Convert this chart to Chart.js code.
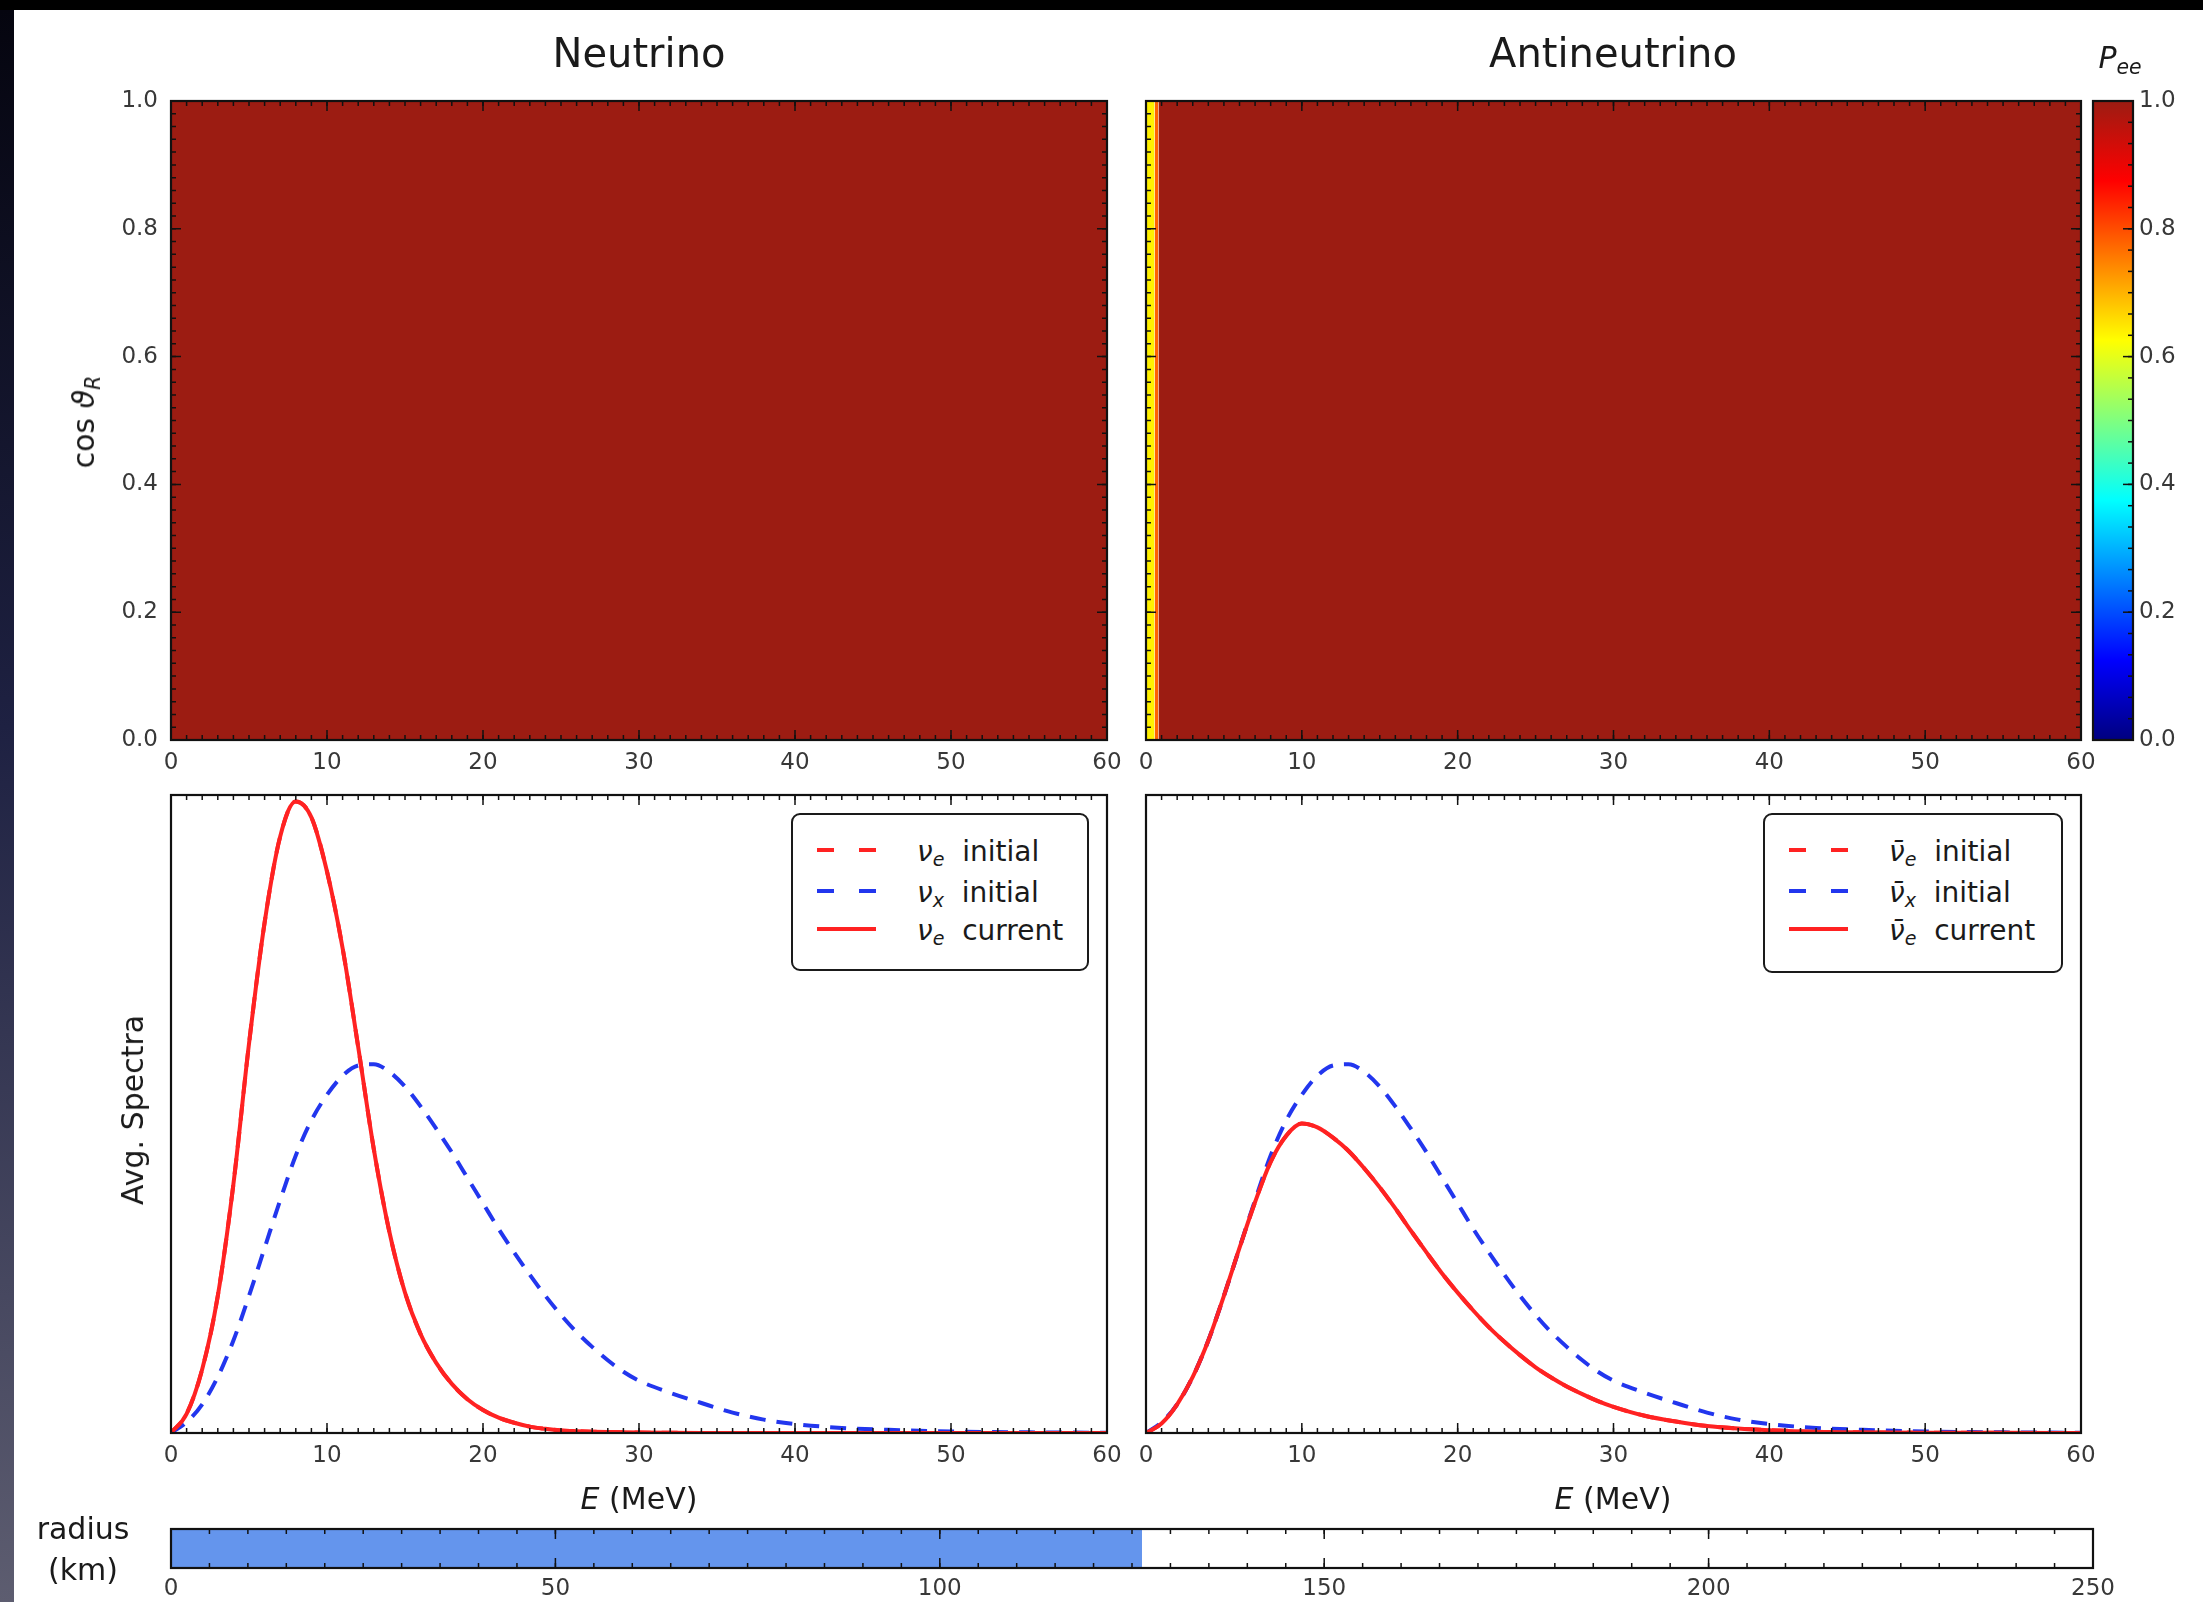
<!DOCTYPE html>
<html>
<head>
<meta charset="utf-8">
<title>Neutrino / Antineutrino survival probability and spectra</title>
<script src="https://cdn.jsdelivr.net/npm/chart.js@4.4.1/dist/chart.umd.min.js"></script>
<style>
    html, body { margin: 0; padding: 0; }
    body {
        width: 2203px; height: 1602px; overflow: hidden; position: relative;
        background: #000; font-family: 'DejaVu Sans', 'Liberation Sans', sans-serif;
    }
    #sheet { position: absolute; left: 14px; top: 10px; right: 0; bottom: 0; background: #fff; }
    #edge { position: absolute; left: 0; top: 10px; width: 14px; bottom: 0;
            background: linear-gradient(#05050f, #1e2142 45%, #5d5d70); }
    canvas { position: absolute; }
    .txt { position: absolute; color: #1a1a1a; white-space: nowrap; line-height: 1;
           transform: translate(-50%, -50%); }
    .rot { transform: translate(-50%, -50%) rotate(-90deg); }
    .title { font-size: 40px; }
    .axis { font-size: 30px; }
    .m { font-style: italic; }
    sub { font-size: 0.68em; position: relative; top: 0.28em; vertical-align: baseline; }
    .legend { position: absolute; background: #fff; border: 2px solid #1a1a1a; border-radius: 9px; }
    .legend .row { position: absolute; left: 0; height: 34px; font-size: 28px; color: #1a1a1a; }
    .legend svg { position: absolute; left: 24px; top: 13px; }
    .legend span.lbl { position: absolute; top: 2px; white-space: nowrap; }
</style>
</head>
<body>
<div id="sheet"></div>
<div id="edge"></div>

<canvas id="nuMap"></canvas>
<canvas id="antiMap"></canvas>
<canvas id="colorbar"></canvas>
<canvas id="nuSpec"></canvas>
<canvas id="antiSpec"></canvas>
<canvas id="radiusBar"></canvas>

<div class="txt title" style="left:639px; top:53px;">Neutrino</div>
<div class="txt title" style="left:1613px; top:53px;">Antineutrino</div>
<div class="txt axis" style="left:2120px; top:58px;"><span class="m">P<sub>ee</sub></span></div>
<div class="txt axis rot" style="left:84px; top:422px;">cos <span class="m">ϑ<sub>R</sub></span></div>
<div class="txt axis rot" style="left:133px; top:1110px;">Avg. Spectra</div>
<div class="txt axis" style="left:639px; top:1499px;"><span class="m">E</span> (MeV)</div>
<div class="txt axis" style="left:1613px; top:1499px;"><span class="m">E</span> (MeV)</div>
<div class="txt axis" style="left:83px; top:1529px;">radius</div>
<div class="txt axis" style="left:83px; top:1570px;">(km)</div>

<div class="legend" id="nuLegend" style="left:791px; top:813px; width:294px; height:154px;"></div>
<div class="legend" id="antiLegend" style="left:1763px; top:813px; width:296px; height:156px;"></div>

<script>
// ---- Data ----

// Energy grid (MeV) shared by all average spectra
const energies = [0, 1, 2, 3, 4, 5, 6, 7, 8, 9, 10, 11, 12, 13, 14, 15, 16, 17, 18, 19, 20,
    21, 22, 23, 24, 25, 26, 27, 28, 29, 30, 32, 34, 36, 38, 40, 43, 46, 50, 55, 60];

// Neutrino spectra (arbitrary units, 1 = top of the panel)
const nuEInitial = [0, 0.03, 0.10, 0.215, 0.39, 0.61, 0.80, 0.935, 0.99, 0.965, 0.88,
    0.76, 0.605, 0.445, 0.315, 0.22, 0.155, 0.11, 0.077, 0.053, 0.036,
    0.024, 0.016, 0.010, 0.0065, 0.004, 0.0028, 0.002, 0.0014, 0.001, 0.0007,
    0.0003, 0.0001, 0, 0, 0, 0, 0, 0, 0, 0];
const nuXInitial = [0, 0.017, 0.045, 0.088, 0.145, 0.215, 0.29, 0.365, 0.435, 0.49, 0.53,
    0.56, 0.576, 0.578, 0.566, 0.543, 0.512, 0.477, 0.44, 0.40, 0.36,
    0.32, 0.283, 0.248, 0.215, 0.185, 0.158, 0.135, 0.114, 0.096, 0.082,
    0.063, 0.047, 0.032, 0.021, 0.014, 0.008, 0.005, 0.0025, 0.001, 0.0004];
const nuECurrent = [0, 0.03, 0.10, 0.215, 0.39, 0.61, 0.80, 0.935, 0.99, 0.965, 0.88,
    0.76, 0.605, 0.445, 0.315, 0.22, 0.155, 0.11, 0.077, 0.053, 0.036,
    0.024, 0.016, 0.010, 0.0065, 0.004, 0.0028, 0.002, 0.0014, 0.001, 0.0007,
    0.0003, 0.0001, 0, 0, 0, 0, 0, 0, 0, 0];

// Antineutrino spectra
const antiEInitial = [0, 0.015, 0.045, 0.088, 0.145, 0.215, 0.29, 0.362, 0.425, 0.466, 0.485,
    0.479, 0.463, 0.442, 0.415, 0.385, 0.352, 0.317, 0.283, 0.25, 0.22,
    0.192, 0.166, 0.143, 0.122, 0.103, 0.087, 0.073, 0.061, 0.05, 0.041,
    0.027, 0.018, 0.011, 0.007, 0.0045, 0.002, 0.001, 0.0005, 0.0002, 0];
const antiXInitial = [0, 0.017, 0.045, 0.088, 0.145, 0.215, 0.29, 0.365, 0.435, 0.49, 0.53,
    0.56, 0.576, 0.578, 0.566, 0.543, 0.512, 0.477, 0.44, 0.40, 0.36,
    0.32, 0.283, 0.248, 0.215, 0.185, 0.158, 0.135, 0.114, 0.096, 0.082,
    0.063, 0.047, 0.032, 0.021, 0.014, 0.008, 0.005, 0.0025, 0.001, 0.0004];
const antiECurrent = [0, 0.015, 0.045, 0.088, 0.145, 0.215, 0.29, 0.362, 0.425, 0.466, 0.485,
    0.479, 0.463, 0.442, 0.415, 0.385, 0.352, 0.317, 0.283, 0.25, 0.22,
    0.192, 0.166, 0.143, 0.122, 0.103, 0.087, 0.073, 0.061, 0.05, 0.041,
    0.027, 0.018, 0.011, 0.007, 0.0045, 0.002, 0.001, 0.0005, 0.0002, 0];

// P_ee maps: constant in cos(theta_R), piecewise in energy (bin edges in MeV)
const cosRange = [0, 1];
const nuPeeEdges = [0, 60];
const nuPee = [1.0];
const antiPeeEdges = [0, 0.55, 0.8, 60];
const antiPee = [0.64, 0.78, 1.0];

// Tick labels
const energyRange = [0, 60];
const cosTicks = [0, 0.2, 0.4, 0.6, 0.8, 1.0];
const peeTicks = [0, 0.2, 0.4, 0.6, 0.8, 1.0];
const radiusRange = [0, 250];
const radiusTicks = [0, 50, 100, 150, 200, 250];

// Current radius of the calculation (km)
const radiusNow = 126.3;

// ---- Styling / layout ----
const FONT = "'DejaVu Sans', 'Liberation Sans', sans-serif";
const RED = '#ff2222';
const BLUE = '#2236ee';
const RADIUS_BLUE = '#6495ed';

const LAYOUT = {
    nuMap:    { left: 171,  top: 101,  width: 936,  height: 639 },
    antiMap:  { left: 1146, top: 101,  width: 935,  height: 639 },
    colorbar: { left: 2093, top: 101,  width: 40,   height: 639 },
    nuSpec:   { left: 171,  top: 795,  width: 936,  height: 638 },
    antiSpec: { left: 1146, top: 795,  width: 935,  height: 638 },
    radiusBar:{ left: 171,  top: 1529, width: 1922, height: 39 }
};

// jet colormap
const jetStops = [
    [0.0,   [0, 0, 127]],
    [0.125, [0, 0, 255]],
    [0.375, [0, 255, 255]],
    [0.625, [255, 255, 0]],
    [0.875, [255, 0, 0]],
    [1.0,   [156, 28, 18]]
];

function jet(v) {
    for (let i = 1; i < jetStops.length; i++) {
        const [p1, c1] = jetStops[i];
        const [p0, c0] = jetStops[i - 1];
        if (v <= p1) {
            const t = (v - p0) / (p1 - p0);
            const c = c0.map((a, k) => Math.round(a + (c1[k] - a) * t));
            return `rgb(${c[0]}, ${c[1]}, ${c[2]})`;
        }
    }
    const c = jetStops[jetStops.length - 1][1];
    return `rgb(${c[0]}, ${c[1]}, ${c[2]})`;
}

Chart.defaults.font.family = FONT;
Chart.defaults.color = '#333';

// Frame + inward ticks, matplotlib style
const framePlugin = {
    id: 'frame',
    defaults: { x: null, y: null, xSides: ['top', 'bottom'], ySides: ['left', 'right'] },
    afterDatasetsDraw(chart, args, opts) {
        const { ctx, chartArea: a, scales } = chart;
        ctx.save();
        ctx.strokeStyle = '#111';
        ctx.lineWidth = 1.5;

        function tickSet(scale, spec, horizontal, sides) {
            if (!spec) return;
            [[spec.minor, 5], [spec.major, 10]].forEach(([step, len]) => {
                const n = Math.round((scale.max - scale.min) / step);
                for (let i = 1; i < n; i++) {
                    const p = scale.getPixelForValue(scale.min + i * step);
                    ctx.beginPath();
                    sides.forEach(side => {
                        if (horizontal && side === 'bottom') { ctx.moveTo(p, a.bottom); ctx.lineTo(p, a.bottom - len); }
                        if (horizontal && side === 'top') { ctx.moveTo(p, a.top); ctx.lineTo(p, a.top + len); }
                        if (!horizontal && side === 'left') { ctx.moveTo(a.left, p); ctx.lineTo(a.left + len, p); }
                        if (!horizontal && side === 'right') { ctx.moveTo(a.right, p); ctx.lineTo(a.right - len, p); }
                    });
                    ctx.stroke();
                }
            });
        }

        tickSet(scales.x, opts.x, true, opts.xSides);
        tickSet(scales.y, opts.y, false, opts.ySides);

        ctx.lineWidth = 2.2;
        ctx.strokeRect(a.left, a.top, a.width, a.height);
        ctx.restore();
    }
};
Chart.register(framePlugin);

// Helpers
function toPoints(xs, ys) {
    return xs.map((x, i) => ({ x: x, y: ys[i] }));
}

function tickFont() {
    return { size: 23, family: FONT };
}

function energyAxis() {
    return {
        type: 'linear', min: energyRange[0], max: energyRange[1],
        grid: { display: false, drawTicks: false }, border: { display: false },
        ticks: { stepSize: 10, padding: 9, color: '#383838', font: tickFont(), maxRotation: 0, autoSkip: false },
        afterFit: s => { s.height = 40; }
    };
}

function hiddenAxis(min, max) {
    return { type: 'linear', min: min, max: max, display: false };
}

function createPanel(id, axes, scales, datasets, frame) {
    const area = LAYOUT[id];
    const pad = { left: 40, right: 40, top: 40, bottom: 40 };
    const yLeft = axes.yLeft || 0, yRight = axes.yRight || 0, xBottom = axes.xBottom || 0;
    const canvas = document.getElementById(id);
    canvas.width = area.width + pad.left + pad.right + yLeft + yRight;
    canvas.height = area.height + pad.top + pad.bottom + xBottom;
    canvas.style.left = (area.left - pad.left - yLeft) + 'px';
    canvas.style.top = (area.top - pad.top) + 'px';

    return new Chart(canvas, {
        type: 'line',
        data: { datasets: datasets },
        options: {
            responsive: false,
            animation: false,
            events: [],
            layout: { padding: pad },
            scales: scales,
            plugins: {
                legend: { display: false },
                tooltip: { enabled: false },
                frame: frame
            }
        }
    });
}

// One filled strip per energy bin, spanning the full cos(theta) range
function mapStrips(edges, pee) {
    return pee.map((p, i) => ({
        data: [{ x: edges[i], y: cosRange[1] }, { x: edges[i + 1], y: cosRange[1] }],
        fill: { value: cosRange[0] },
        backgroundColor: jet(p),
        borderWidth: 0,
        pointRadius: 0
    }));
}

function spectrumSets(eInit, xInit, eCur) {
    const common = { pointRadius: 0, fill: false, cubicInterpolationMode: 'monotone', borderWidth: 4 };
    // first entry is drawn on top
    return [
        Object.assign({ label: 'current', data: toPoints(energies, eCur), borderColor: RED }, common),
        Object.assign({ label: 'x initial', data: toPoints(energies, xInit), borderColor: BLUE, borderDash: [16, 11] }, common),
        Object.assign({ label: 'e initial', data: toPoints(energies, eInit), borderColor: RED, borderDash: [16, 11] }, common)
    ];
}

// ---- Charts ----
function initializePeeMaps() {
    const cosAxis = {
        type: 'linear', min: cosTicks[0], max: cosTicks[cosTicks.length - 1],
        grid: { display: false, drawTicks: false }, border: { display: false },
        ticks: { stepSize: 0.2, padding: 13, color: '#383838', font: tickFont(), callback: v => v.toFixed(1) },
        afterFit: s => { s.width = 70; }
    };
    const frame = { x: { major: 10, minor: 1 }, y: { major: 0.2, minor: 0.02 } };

    createPanel('nuMap', { yLeft: 70, xBottom: 40 },
        { x: energyAxis(), y: cosAxis },
        mapStrips(nuPeeEdges, nuPee), frame);

    createPanel('antiMap', { xBottom: 40 },
        { x: energyAxis(), y: hiddenAxis(cosRange[0], cosRange[1]) },
        mapStrips(antiPeeEdges, antiPee), frame);
}

function initializeColorbar() {
    const barFill = function(context) {
        const area = context.chart.chartArea;
        if (!area) return jet(1);
        const g = context.chart.ctx.createLinearGradient(0, area.bottom, 0, area.top);
        jetStops.forEach(([p]) => g.addColorStop(p, jet(p)));
        return g;
    };
    createPanel('colorbar', { yRight: 60 },
        {
            x: hiddenAxis(0, 1),
            y: {
                type: 'linear', position: 'right', min: peeTicks[0], max: peeTicks[peeTicks.length - 1],
                grid: { display: false, drawTicks: false }, border: { display: false },
                ticks: { stepSize: 0.2, padding: 6, color: '#383838', font: tickFont(), callback: v => v.toFixed(1) },
                afterFit: s => { s.width = 60; }
            }
        },
        [{ data: [{ x: 0, y: 1 }, { x: 1, y: 1 }], fill: { value: 0 }, backgroundColor: barFill, borderWidth: 0, pointRadius: 0 }],
        { y: { major: 0.2, minor: 0.2 / 6 }, ySides: ['right'] });
}

function initializeSpectra() {
    const frame = { x: { major: 10, minor: 1 } };
    createPanel('nuSpec', { xBottom: 40 },
        { x: energyAxis(), y: hiddenAxis(0, 1) },
        spectrumSets(nuEInitial, nuXInitial, nuECurrent), frame);
    createPanel('antiSpec', { xBottom: 40 },
        { x: energyAxis(), y: hiddenAxis(0, 1) },
        spectrumSets(antiEInitial, antiXInitial, antiECurrent), frame);
}

function initializeRadiusBar() {
    createPanel('radiusBar', { xBottom: 40 },
        {
            x: {
                type: 'linear', min: radiusRange[0], max: radiusRange[1],
                grid: { display: false, drawTicks: false }, border: { display: false },
                ticks: { stepSize: radiusTicks[1] - radiusTicks[0], padding: 7, color: '#383838', font: tickFont(), maxRotation: 0 },
                afterFit: s => { s.height = 40; }
            },
            y: hiddenAxis(0, 1)
        },
        [{ data: [{ x: radiusRange[0], y: 1 }, { x: radiusNow, y: 1 }], fill: { value: 0 }, backgroundColor: RADIUS_BLUE, borderWidth: 0, pointRadius: 0 }],
        { x: { major: 50, minor: 5 } });
}

// ---- Legends (HTML) ----
function legendRow(top, color, dashed, html) {
    const dash = dashed ? 'stroke-dasharray="17 25"' : '';
    return `<div class="row" style="top:${top}px; width:100%;">
        <svg width="60" height="8"><line x1="0" y1="4" x2="59" y2="4" stroke="${color}" stroke-width="4" ${dash}/></svg>
        <span class="lbl" style="left:124px;">${html}</span></div>`;
}

function initializeLegends() {
    const nu = '<span class="m">ν</span>';
    const nubar = '<span class="m">ν̄</span>';
    document.getElementById('nuLegend').innerHTML =
        legendRow(18, RED, true, `${nu}<sub class="m">e</sub>&nbsp; initial`) +
        legendRow(59, BLUE, true, `${nu}<sub class="m">x</sub>&nbsp; initial`) +
        legendRow(97, RED, false, `${nu}<sub class="m">e</sub>&nbsp; current`);
    document.getElementById('antiLegend').innerHTML =
        legendRow(18, RED, true, `${nubar}<sub class="m">e</sub>&nbsp; initial`) +
        legendRow(59, BLUE, true, `${nubar}<sub class="m">x</sub>&nbsp; initial`) +
        legendRow(97, RED, false, `${nubar}<sub class="m">e</sub>&nbsp; current`);
}

initializePeeMaps();
initializeColorbar();
initializeSpectra();
initializeRadiusBar();
initializeLegends();
</script>
</body>
</html>
